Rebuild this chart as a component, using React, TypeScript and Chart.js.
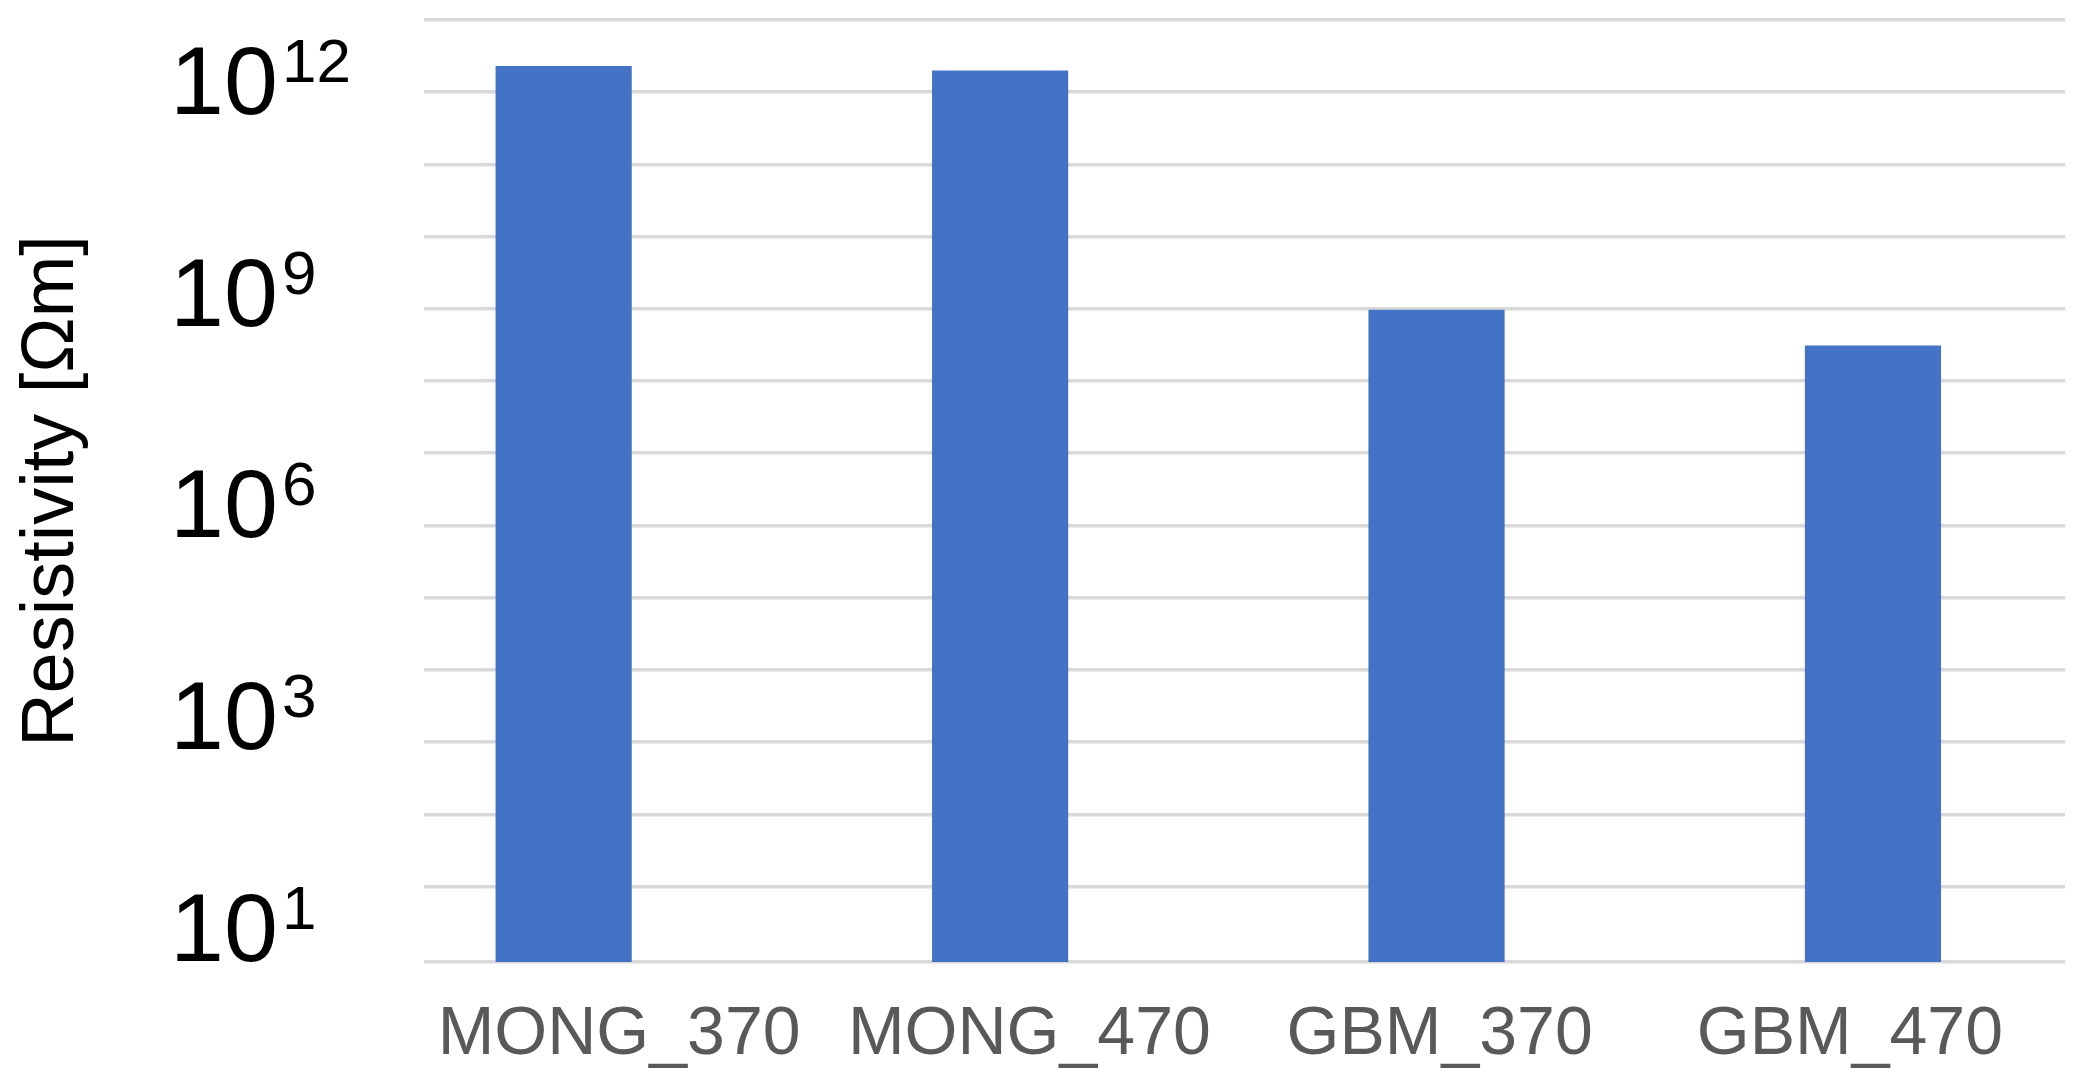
import { useEffect, useRef } from "react";
import { Chart, registerables } from "chart.js";

Chart.register(...registerables);

// data (log axis, values in ohm-metres)
const categories = ["MONG_370", "MONG_470", "GBM_370", "GBM_470"];
const resistivity = [2.3e12, 2.0e12, 9.7e8, 3.1e8];
const gridExponents = [1, 2, 3, 4, 5, 6, 7, 8, 9, 10, 11, 12, 13];
const labelExponents = [12, 9, 6, 3, 1];
const yMin = 0.9;
const yMax = 1e13;

const FONT = '"Liberation Sans", Arial, sans-serif';
const W = 2089;
const H = 1084;

// y tick labels drawn as "10" with a raised exponent
const powerLabels = {
  id: "powerLabels",
  afterDraw(chart: any) {
    const { ctx } = chart;
    const y = chart.scales.y;
    const n = labelExponents.length;
    const first = y.getPixelForValue(10 ** labelExponents[0]) - 12;
    const last = y.getPixelForValue(1) - 32;
    ctx.save();
    ctx.fillStyle = "#000";
    ctx.textAlign = "left";
    ctx.textBaseline = "alphabetic";
    labelExponents.forEach((e, i) => {
      const cy = first + ((last - first) * i) / (n - 1);
      const base = cy + 34;
      ctx.font = `97px ${FONT}`;
      ctx.fillText("10", 170, base);
      const w = ctx.measureText("10").width;
      ctx.font = `62px ${FONT}`;
      ctx.fillText(String(e), 170 + w + 4, base - 32);
    });
    ctx.restore();
  },
};

export default function App() {
  const canvasRef = useRef<HTMLCanvasElement | null>(null);

  useEffect(() => {
    if (!canvasRef.current) return;
    const chart = new Chart(canvasRef.current, {
      type: "bar",
      data: {
        labels: categories,
        datasets: [
          {
            data: categories.map((_, i) => ({ x: i, y: resistivity[i] })),
            xAxisID: "xb",
            yAxisID: "y",
            backgroundColor: "#4472c4",
            borderWidth: 0,
            categoryPercentage: 1,
            barPercentage: 0.312,
          },
        ],
      },
      options: {
        animation: false,
        responsive: true,
        maintainAspectRatio: false,
        layout: { padding: { left: 0, right: 24, top: 20, bottom: 0 } },
        plugins: { legend: { display: false }, tooltip: { enabled: false } },
        scales: {
          x: {
            type: "category",
            position: "bottom",
            grid: { display: false },
            border: { display: false },
            ticks: {
              color: "#595959",
              font: { family: FONT, size: 68 },
              padding: 24,
              labelOffset: -10,
              maxRotation: 0,
            },
            afterFit: (s: any) => {
              s.height = H - 962;
            },
          },
          // bars sit on their own hidden axis; their spacing differs from the labels'
          xb: {
            type: "linear",
            display: false,
            offset: false,
            grid: { offset: false },
            min: -0.32,
            max: 3.44,
            afterBuildTicks: (s: any) => {
              s.ticks = categories.map((_, i) => ({ value: i }));
            },
          },
          y: {
            type: "logarithmic",
            min: yMin,
            max: yMax,
            border: { display: false },
            grid: { color: "#d9d9d9", lineWidth: 3.5, drawTicks: false },
            ticks: { display: false },
            afterBuildTicks: (s: any) => {
              s.ticks = [yMin, ...gridExponents.map((e) => 10 ** e)].map((v) => ({ value: v }));
            },
            afterFit: (s: any) => {
              s.width = 424;
            },
            title: {
              display: true,
              text: "Resistivity [Ωm]",
              color: "#000",
              font: { family: FONT, size: 74 },
              padding: { top: 8, bottom: 0 },
            },
          },
        },
      },
      plugins: [powerLabels],
    });
    return () => chart.destroy();
  }, []);

  return (
    <div style={{ position: "fixed", left: 0, top: 0, width: W, height: H, background: "#fff" }}>
      <canvas ref={canvasRef} />
    </div>
  );
}
